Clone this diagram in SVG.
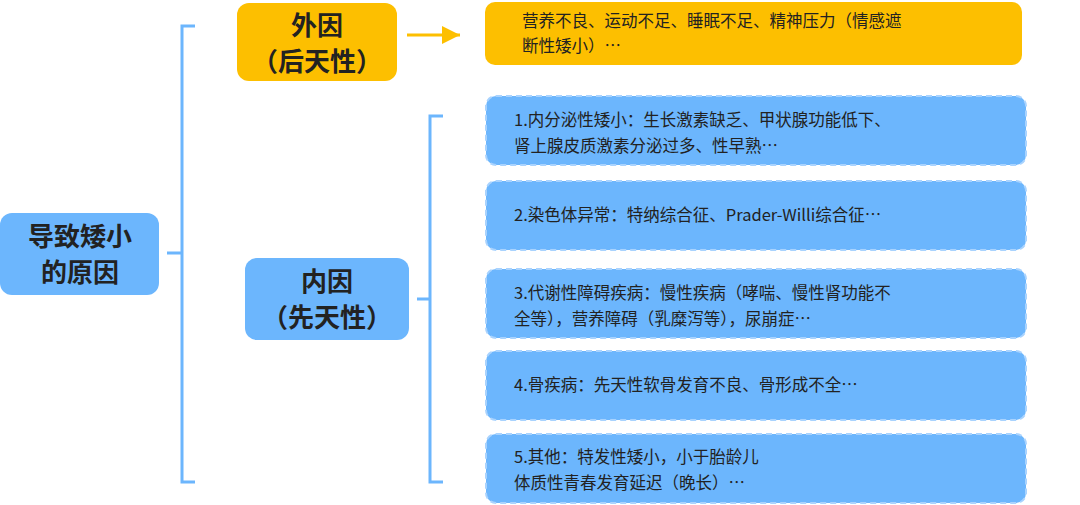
<svg xmlns="http://www.w3.org/2000/svg" width="1080" height="505" viewBox="0 0 1080 505">
<style>
text{font-family:"Noto Sans CJK SC","Noto Sans",sans-serif;fill:#222}
.b{font-weight:bold;font-size:26px;text-anchor:middle}
.t{font-size:16.5px}
.blue{fill:#6cb6fd}
.org{fill:#fdbf00}
.dash{fill:#6cb6fd;stroke:#a9d3fe;stroke-width:2;stroke-dasharray:6 4}
.ln{fill:none;stroke:#6cb6fd;stroke-width:3}
</style>
<defs><marker id="ar" markerWidth="8" markerHeight="8" refX="6" refY="4" orient="auto"><path d="M0,1 L6,4 L0,7" fill="#fdbf00"/></marker></defs>
<g id="connectors">
<path class="ln" d="M167,253 H182 M195,26 H182 V482 H195"/>
<path class="ln" d="M417,299 H430 M443,116 H430 V482 H443"/>
<path d="M407,35 H460" stroke="#fdbf00" stroke-width="3" marker-end="url(#ar)"/>
</g>
<g id="root"><rect class="blue" x="0" y="213" width="159" height="82" rx="12"/><text class="b" x="80" y="246">导致矮小</text><text class="b" x="80" y="282">的原因</text></g>
<g id="waiyin"><rect class="org" x="237" y="3" width="160" height="78" rx="12"/><text class="b" x="317" y="35">外因</text><text class="b" x="317" y="71">（后天性）</text></g>
<g id="waiyin-detail"><rect class="org" x="485" y="2" width="537" height="63" rx="10"/><text class="t" x="522" y="27">营养不良、运动不足、睡眠不足、精神压力（情感遮</text><text class="t" x="522" y="52">断性矮小）…</text></g>
<g id="neiyin"><rect class="blue" x="245" y="258" width="164" height="82" rx="12"/><text class="b" x="327" y="291">内因</text><text class="b" x="327" y="327">（先天性）</text></g>
<g id="n1"><rect class="dash" x="486" y="96" width="540" height="69" rx="10"/><text class="t" x="514" y="126">1.内分泌性矮小：生长激素缺乏、甲状腺功能低下、</text><text class="t" x="514" y="152">肾上腺皮质激素分泌过多、性早熟…</text></g>
<g id="n2"><rect class="dash" x="486" y="181" width="540" height="69" rx="10"/><text class="t" x="514" y="221">2.染色体异常：特纳综合征、Prader-Willi综合征…</text></g>
<g id="n3"><rect class="dash" x="486" y="269" width="540" height="69" rx="10"/><text class="t" x="514" y="299">3.代谢性障碍疾病：慢性疾病（哮喘、慢性肾功能不</text><text class="t" x="514" y="325">全等），营养障碍（乳糜泻等），尿崩症…</text></g>
<g id="n4"><rect class="dash" x="486" y="351" width="540" height="69" rx="10"/><text class="t" x="514" y="391">4.骨疾病：先天性软骨发育不良、骨形成不全…</text></g>
<g id="n5"><rect class="dash" x="486" y="434" width="540" height="69" rx="10"/><text class="t" x="514" y="463">5.其他：特发性矮小，小于胎龄儿</text><text class="t" x="514" y="489">体质性青春发育延迟（晚长）…</text></g>
</svg>
